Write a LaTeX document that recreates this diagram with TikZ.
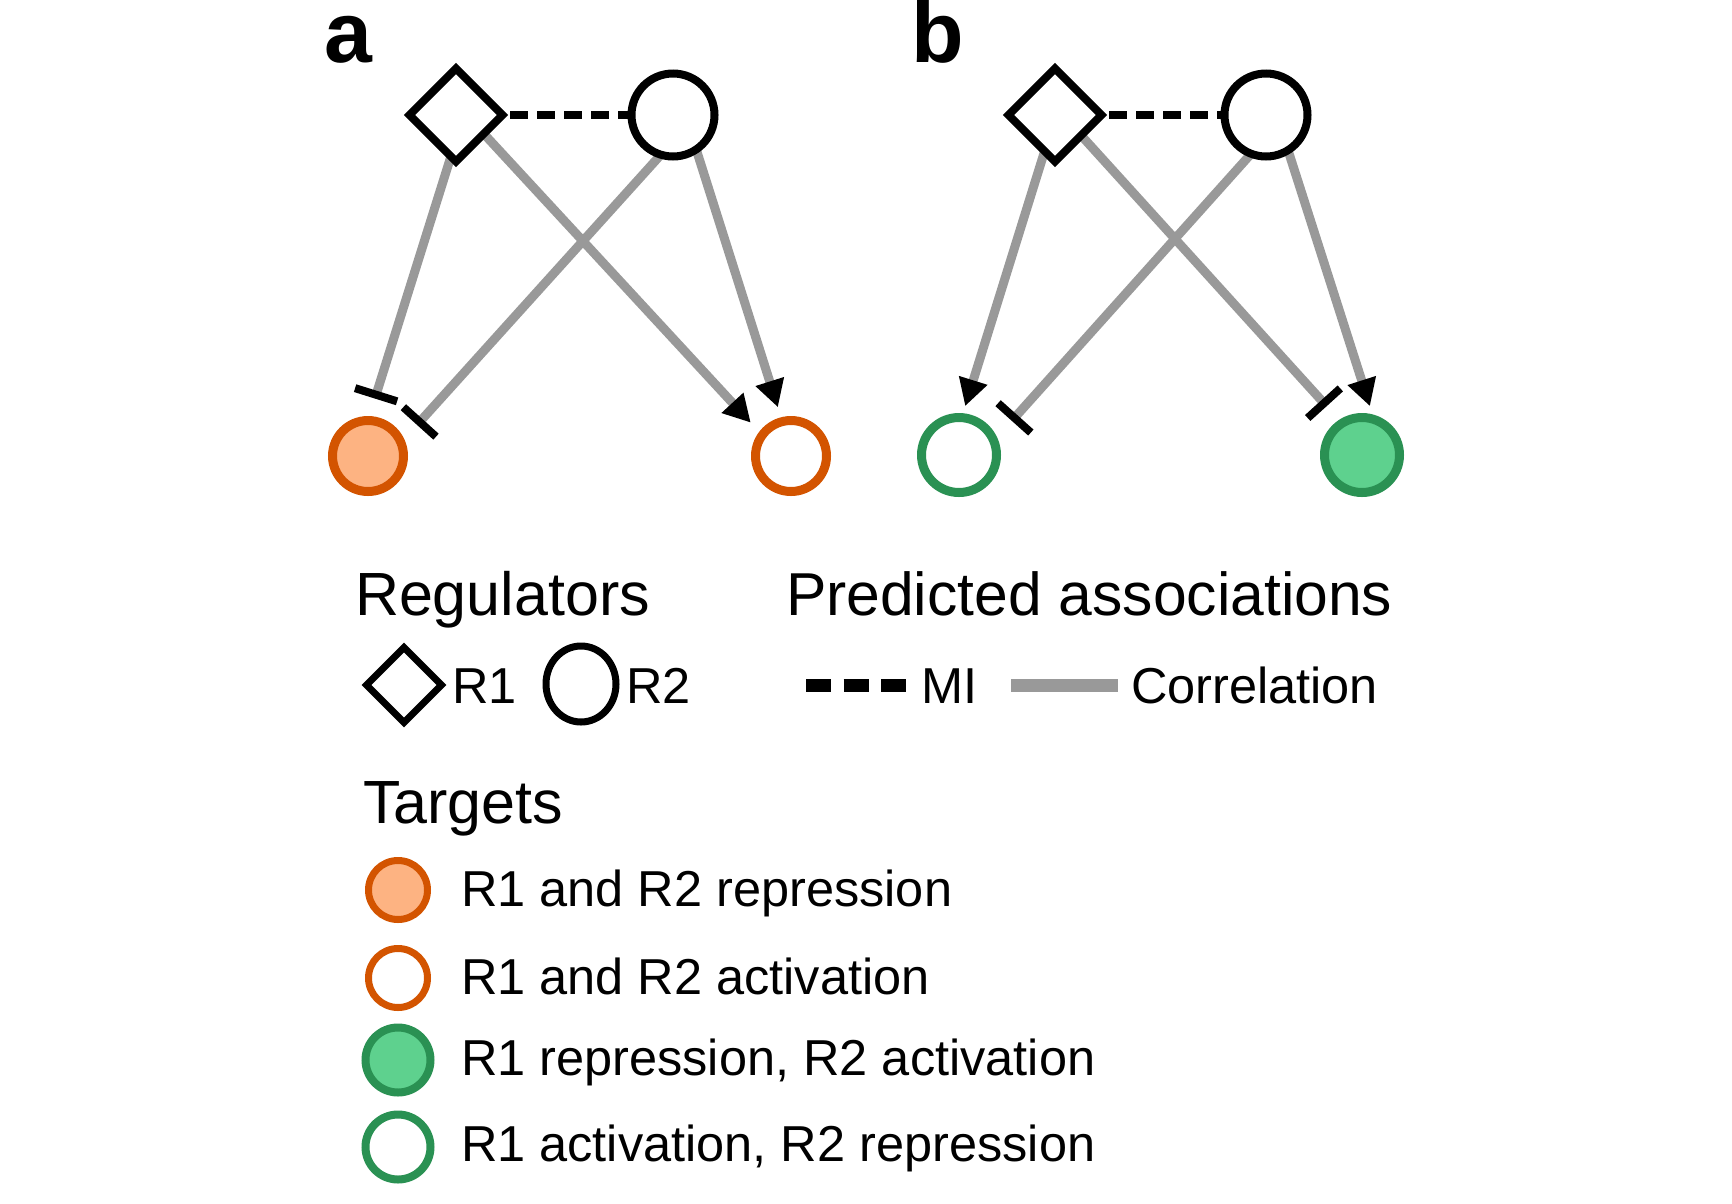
\documentclass[tikz,border=0pt]{standalone}
\usepackage{fontspec}
\setmainfont{Liberation Sans}
\usetikzlibrary{arrows.meta,shapes.geometric}
\definecolor{orng}{HTML}{D35400}
\definecolor{orngfill}{HTML}{FDB382}
\definecolor{grn}{HTML}{2A9153}
\definecolor{grnfill}{HTML}{5ED18E}
\definecolor{corr}{HTML}{999999}
\pgfdeclarelayer{bg}
\pgfsetlayers{bg,main}
\begin{document}
\begin{tikzpicture}[x=1pt,y=-1pt,
  reg1/.style={diamond, draw=black, fill=white, line width=8pt, minimum width=93pt, minimum height=93pt, inner sep=0pt, outer sep=0pt},
  reg2/.style={circle, draw=black, fill=white, line width=8pt, minimum size=83pt, inner sep=0pt, outer sep=0pt},
  tgt/.style={circle, line width=9pt, inner sep=0pt, outer sep=0pt},
  tgta/.style={tgt, draw=orng, minimum size=71pt},
  tgtb/.style={tgt, draw=grn, minimum size=75pt},
  miline/.style={draw=black, line width=8pt, dash pattern=on 18pt off 9pt},
  corrline/.style={draw=corr, line width=9pt},
  act/.style={corrline, -{Triangle[length=27pt,width=28pt,color=black]}},
  rep/.style={corrline, -{Bar[width=44pt,line width=8pt,color=black]}},
  lbl/.style={anchor=base west, inner sep=0pt, outer sep=0pt, font=\fontsize{86}{90}\selectfont\bfseries},
  head/.style={anchor=base west, inner sep=0pt, outer sep=0pt, font=\fontsize{61}{70}\selectfont},
  txt/.style={anchor=base west, inner sep=0pt, outer sep=0pt, font=\fontsize{50.5}{60}\selectfont},
  legdia/.style={diamond, draw=black, fill=white, line width=7pt, minimum width=75pt, minimum height=75pt, inner sep=0pt, outer sep=0pt},
  legell/.style={ellipse, draw=black, fill=white, line width=7pt, minimum width=70pt, minimum height=76pt, inner sep=0pt, outer sep=0pt},
  legto/.style={circle, draw=orng, line width=7pt, minimum size=59pt, inner sep=0pt, outer sep=0pt},
  legtg/.style={circle, draw=grn, line width=8pt, minimum size=65pt, inner sep=0pt, outer sep=0pt},
]
\useasboundingbox (0,0) rectangle (1732,1203);

% panel labels
\node[lbl] (la) at (324,62) {a};
\node[lbl] (lb) at (911,62) {b};

% panel a nodes
\node[reg1] (R1a) at (456,115) {};
\node[reg2] (R2a) at (673,115) {};
\node[tgta, fill=orngfill] (Ta1) at (368,456) {};
\node[tgta, fill=white] (Ta2) at (791,456) {};

% panel b nodes
\node[reg1] (R1b) at (1055,115) {};
\node[reg2] (R2b) at (1266,115) {};
\node[tgtb, fill=white] (Tb1) at (959,455) {};
\node[tgtb, fill=grnfill] (Tb2) at (1362,455) {};

\begin{pgfonlayer}{bg}
  \draw[miline] (R1a.center) -- (R2a.center);
  \draw[rep, shorten >=23pt] (R1a.-97) -- (Ta1.90);
  \draw[rep, shorten >=24pt] (R2a.253) -- (Ta1.22);
  \draw[act, shorten >=17pt] (R1a.-34) -- (Ta2.144);
  \draw[act, shorten >=15pt] (R2a.-56) -- (Ta2.104);

  \draw[miline] (R1b.center) -- (R2b.center);
  \draw[act, shorten >=12pt] (R1b.-106) -- (Tb1.86);
  \draw[rep, shorten >=27pt] (R2b.249) -- (Tb1.22);
  \draw[rep, shorten >=23pt] (R1b.-38) -- (Tb2.122);
  \draw[act, shorten >=14pt] (R2b.-58) -- (Tb2.71);
\end{pgfonlayer}

% legend: regulators
\node[head] (hreg) at (355,615) {Regulators};
\node[legdia] (lR1) at (404,685) {};
\node[txt] (tR1) at (452,703) {R1};
\node[legell] (lR2) at (581,684) {};
\node[txt] (tR2) at (626,703) {R2};

% legend: associations
\node[head, font=\fontsize{60.6}{70}\selectfont] (hpred) at (786,615) {Predicted associations};
\coordinate (miA) at (806,685);
\coordinate (miB) at (906,685);
\draw[draw=black, line width=13pt, dash pattern=on 25pt off 12.5pt] (miA) -- (miB);
\node[txt] (tMI) at (921,703) {MI};
\coordinate (coA) at (1011,685);
\coordinate (coB) at (1118,685);
\draw[draw=corr, line width=13pt] (coA) -- (coB);
\node[txt] (tCo) at (1131,703) {Correlation};

% legend: targets
\node[head] (htg) at (363,823) {Targets};
\node[legto, fill=orngfill] (lt1) at (398,890) {};
\node[txt] (tt1) at (461,906) {R1 and R2 repression};
\node[legto, fill=white] (lt2) at (398,978) {};
\node[txt] (tt2) at (461,994) {R1 and R2 activation};
\node[legtg, fill=grnfill] (lt3) at (398,1060) {};
\node[txt] (tt3) at (461,1075) {R1 repression, R2 activation};
\node[legtg, fill=white] (lt4) at (398,1147) {};
\node[txt] (tt4) at (461,1161) {R1 activation, R2 repression};
\end{tikzpicture}
\end{document}
